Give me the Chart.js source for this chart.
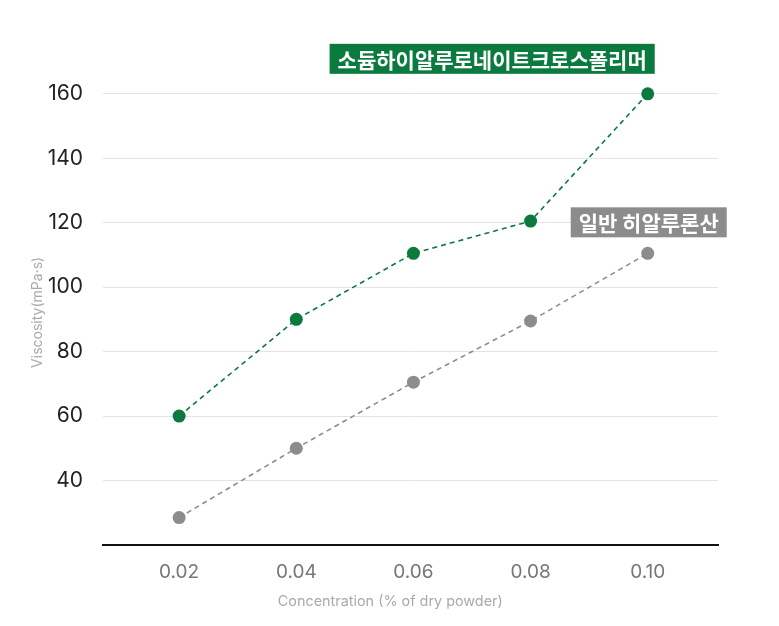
<!DOCTYPE html>
<html>
<head>
<meta charset="utf-8">
<script src="https://cdn.jsdelivr.net/npm/chart.js@4.4.1/dist/chart.umd.min.js"></script>
<style>
  html, body { margin: 0; padding: 0; background: #fff; }
  #wrap { width: 779px; height: 626px; }
</style>
</head>
<body>
<div id="wrap"><canvas id="chart"></canvas></div>
<script>
// Data
const concentrations = [0.02, 0.04, 0.06, 0.08, 0.10];
const crosspolymer = [60, 90, 110.5, 120.5, 160];
const hyaluronic = [28.5, 50, 70.5, 89.5, 110.5];
const yTicks = [40, 60, 80, 100, 120, 140, 160];
const seriesNames = ['소듐하이알루로네이트크로스폴리머', '일반 히알루론산'];

const GREEN = '#0b7a3e';
const GRAY = '#8c8c8c';
// axis titles sit centred on the whole image, not the plot area
const pad = n => '\u00a0'.repeat(n);

// Label boxes next to the last point of each line
const labelBoxes = {
  id: 'labelBoxes',
  afterDatasetsDraw(chart) {
    const ctx = chart.ctx;
    const boxes = [
      { ds: 0, color: GREEN, dx: 7, dy: -35 },
      { ds: 1, color: GRAY, dx: 79, dy: -31 }
    ];
    ctx.save();
    ctx.font = 'bold 21px "Noto Sans CJK KR"';
    ctx.textBaseline = 'middle';
    boxes.forEach(b => {
      const pts = chart.getDatasetMeta(b.ds).data;
      const last = pts[pts.length - 1];
      const text = seriesNames[b.ds];
      const w = ctx.measureText(text).width + 16;
      const h = 30;
      const right = last.x + b.dx;
      const cy = last.y + b.dy;
      ctx.fillStyle = b.color;
      ctx.fillRect(right - w, cy - h / 2, w, h);
      ctx.fillStyle = '#fff';
      ctx.textAlign = 'left';
      ctx.fillText(text, right - w + 8, cy + 1);
    });
    ctx.restore();
  }
};

new Chart(document.getElementById('chart'), {
  type: 'line',
  data: {
    datasets: [
      {
        label: seriesNames[0],
        data: concentrations.map((x, i) => ({ x, y: crosspolymer[i] })),
        borderColor: GREEN,
        backgroundColor: GREEN,
        borderWidth: 1.6,
        borderDash: [5, 4],
        pointRadius: 6.5,
        pointBorderWidth: 0
      },
      {
        label: seriesNames[1],
        data: concentrations.map((x, i) => ({ x, y: hyaluronic[i] })),
        borderColor: GRAY,
        backgroundColor: GRAY,
        borderWidth: 1.6,
        borderDash: [5, 4],
        pointRadius: 6.5,
        pointBorderWidth: 0
      }
    ]
  },
  options: {
    responsive: true,
    maintainAspectRatio: false,
    animation: false,
    layout: { padding: { top: 0, right: 61, bottom: 16, left: 0 } },
    plugins: { legend: { display: false }, tooltip: { enabled: false } },
    scales: {
      x: {
        type: 'linear',
        min: 0.007,
        max: 0.112,
        afterBuildTicks: s => { s.ticks = concentrations.map(v => ({ value: v })); },
        ticks: {
          callback: v => v.toFixed(2),
          color: '#777',
          font: { family: 'Inter', size: 19 },
          padding: 16
        },
        grid: { display: false, drawTicks: false },
        border: { display: true, color: '#111', width: 2 },
        title: {
          display: true,
          text: 'Concentration (% of dry powder)' + pad(10),
          color: '#aaa',
          font: { family: 'Inter', size: 14.4 },
          padding: { top: -7, bottom: 0 }
        }
      },
      y: {
        min: 20,
        max: 179,
        afterBuildTicks: s => { s.ticks = yTicks.map(v => ({ value: v })); },
        afterFit: s => { s.width = 103; },
        ticks: {
          color: '#222',
          font: { family: 'Inter', size: 21 },
          padding: 20
        },
        grid: { color: '#e4e4e4', lineWidth: 1, drawTicks: false },
        border: { display: false },
        title: {
          display: true,
          text: 'Viscosity(mPa·s)' + pad(12),
          color: '#aaa',
          font: { family: 'Inter', size: 14 },
          padding: { top: 29, bottom: 0 }
        }
      }
    }
  },
  plugins: [labelBoxes]
});
</script>
</body>
</html>
